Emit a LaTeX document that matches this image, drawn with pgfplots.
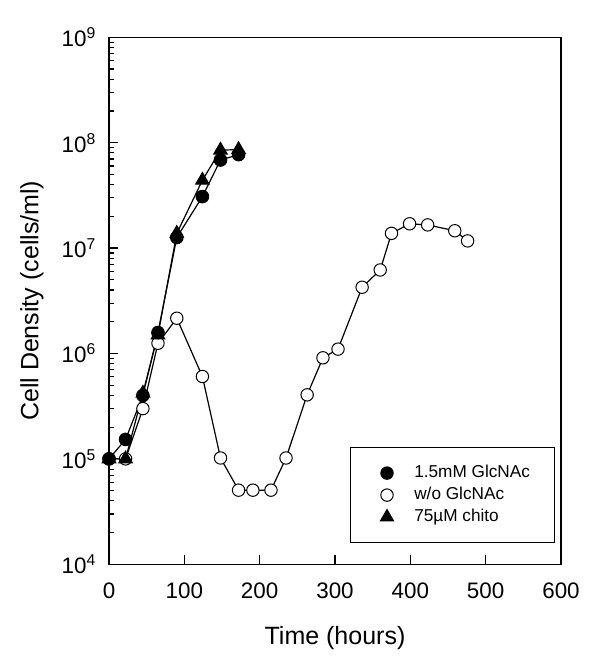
\documentclass[border=0pt]{standalone}
\usepackage{fontspec}
\setmainfont{Liberation Sans}
\usepackage{pgfplots}
\pgfplotsset{compat=1.18}
\begin{document}
\begin{tikzpicture}
\useasboundingbox (-54.5pt,-51.35pt) rectangle (245.5pt,282.15pt);
\begin{axis}[
  scale only axis, width=226pt, height=263.5pt,
  ymode=log, xmin=0, xmax=600, ymin=1e4, ymax=1e9,
  xtick={0,100,...,600},
  ytick={1e4,1e5,1e6,1e7,1e8,1e9},
  yticklabels={10\textsuperscript{4},10\textsuperscript{5},10\textsuperscript{6},10\textsuperscript{7},10\textsuperscript{8},10\textsuperscript{9}},
  /pgf/number format/assume math mode=true,
  xtick pos=bottom, ytick pos=left, tick align=inside,
  minor x tick num=0,
  major tick length=4.5pt, minor tick length=2.5pt,
  axis line style={line width=0.6pt}, every tick/.style={line width=0.6pt, black},
  tick label style={font=\fontsize{11.2}{13}\selectfont},
  xticklabel style={yshift=-5.8pt},
  yticklabel style={xshift=-2.8pt},
  every axis x label/.style={at={(axis description cs:0.5,-0.1398)}, anchor=center, font=\fontsize{12.5}{15}\selectfont},
  every axis y label/.style={at={(axis description cs:-0.1708,0.5)}, rotate=90, anchor=center, font=\fontsize{12.5}{15}\selectfont},
  xlabel={Time (hours)},
  ylabel={Cell Density (cells/ml)},
  legend style={at={(0.5332,0.2220)}, anchor=north west, draw=black, line width=0.5pt,
    inner xsep=0pt, inner ysep=8.4pt, row sep=2.5pt,
    font=\fontsize{8.6}{10}\selectfont,
    nodes={inner xsep=0pt, inner ysep=0pt, text height=6.5pt, text depth=2pt}},
  legend cell align=left,
  legend image code/.code={\path (0pt,0pt) (31.4pt,0pt); \draw[#1] plot coordinates {(18pt,0pt)};},
]
\addlegendimage{only marks, mark=*, mark size=3.1pt, black, fill=black}
\addlegendentry{\makebox[70pt][l]{1.5mM GlcNAc}}
\addlegendimage{only marks, mark=*, mark size=3.1pt, black, fill=white, line width=0.5pt}
\addlegendentry{\makebox[70pt][l]{w/o GlcNAc}}
\addlegendimage{only marks, mark=triangle*, mark size=3.8pt, black, fill=black}
\addlegendentry{\makebox[70pt][l]{75µM chito}}

% w/o GlcNAc (open circles)
\addplot[forget plot, black, line width=0.6pt, mark=*, mark size=3.1pt,
  mark options={fill=white, line width=0.5pt}] coordinates {
  (0,1e5) (22,1e5) (45,3.0e5) (65,1.25e6) (90,2.16e6) (124,6.05e5)
  (148,1.02e5) (172,5.05e4) (191,5.05e4) (215,5.05e4) (235,1.02e5)
  (263,4.05e5) (284,9.1e5) (304,1.1e6) (336,4.25e6) (360,6.2e6)
  (375,1.38e7) (399,1.7e7) (423,1.66e7) (459,1.46e7) (476,1.17e7)
};
% 1.5mM GlcNAc (filled circles)
\addplot[forget plot, black, line width=0.6pt, mark=*, mark size=3.1pt,
  mark options={fill=black}] coordinates {
  (0,1e5) (22,1.53e5) (45,4.0e5) (65,1.58e6) (90,1.26e7) (124,3.08e7)
  (148,6.85e7) (172,7.7e7)
};
% 75uM chito (triangles)
\addplot[forget plot, black, line width=0.6pt, mark=triangle*, mark size=3.8pt,
  mark options={fill=black}] coordinates {
  (0,1e5) (22,1e5) (45,4.2e5) (65,1.5e6) (90,1.38e7) (124,4.4e7)
  (148,8.5e7) (172,8.6e7)
};
\end{axis}
\end{tikzpicture}
\end{document}
